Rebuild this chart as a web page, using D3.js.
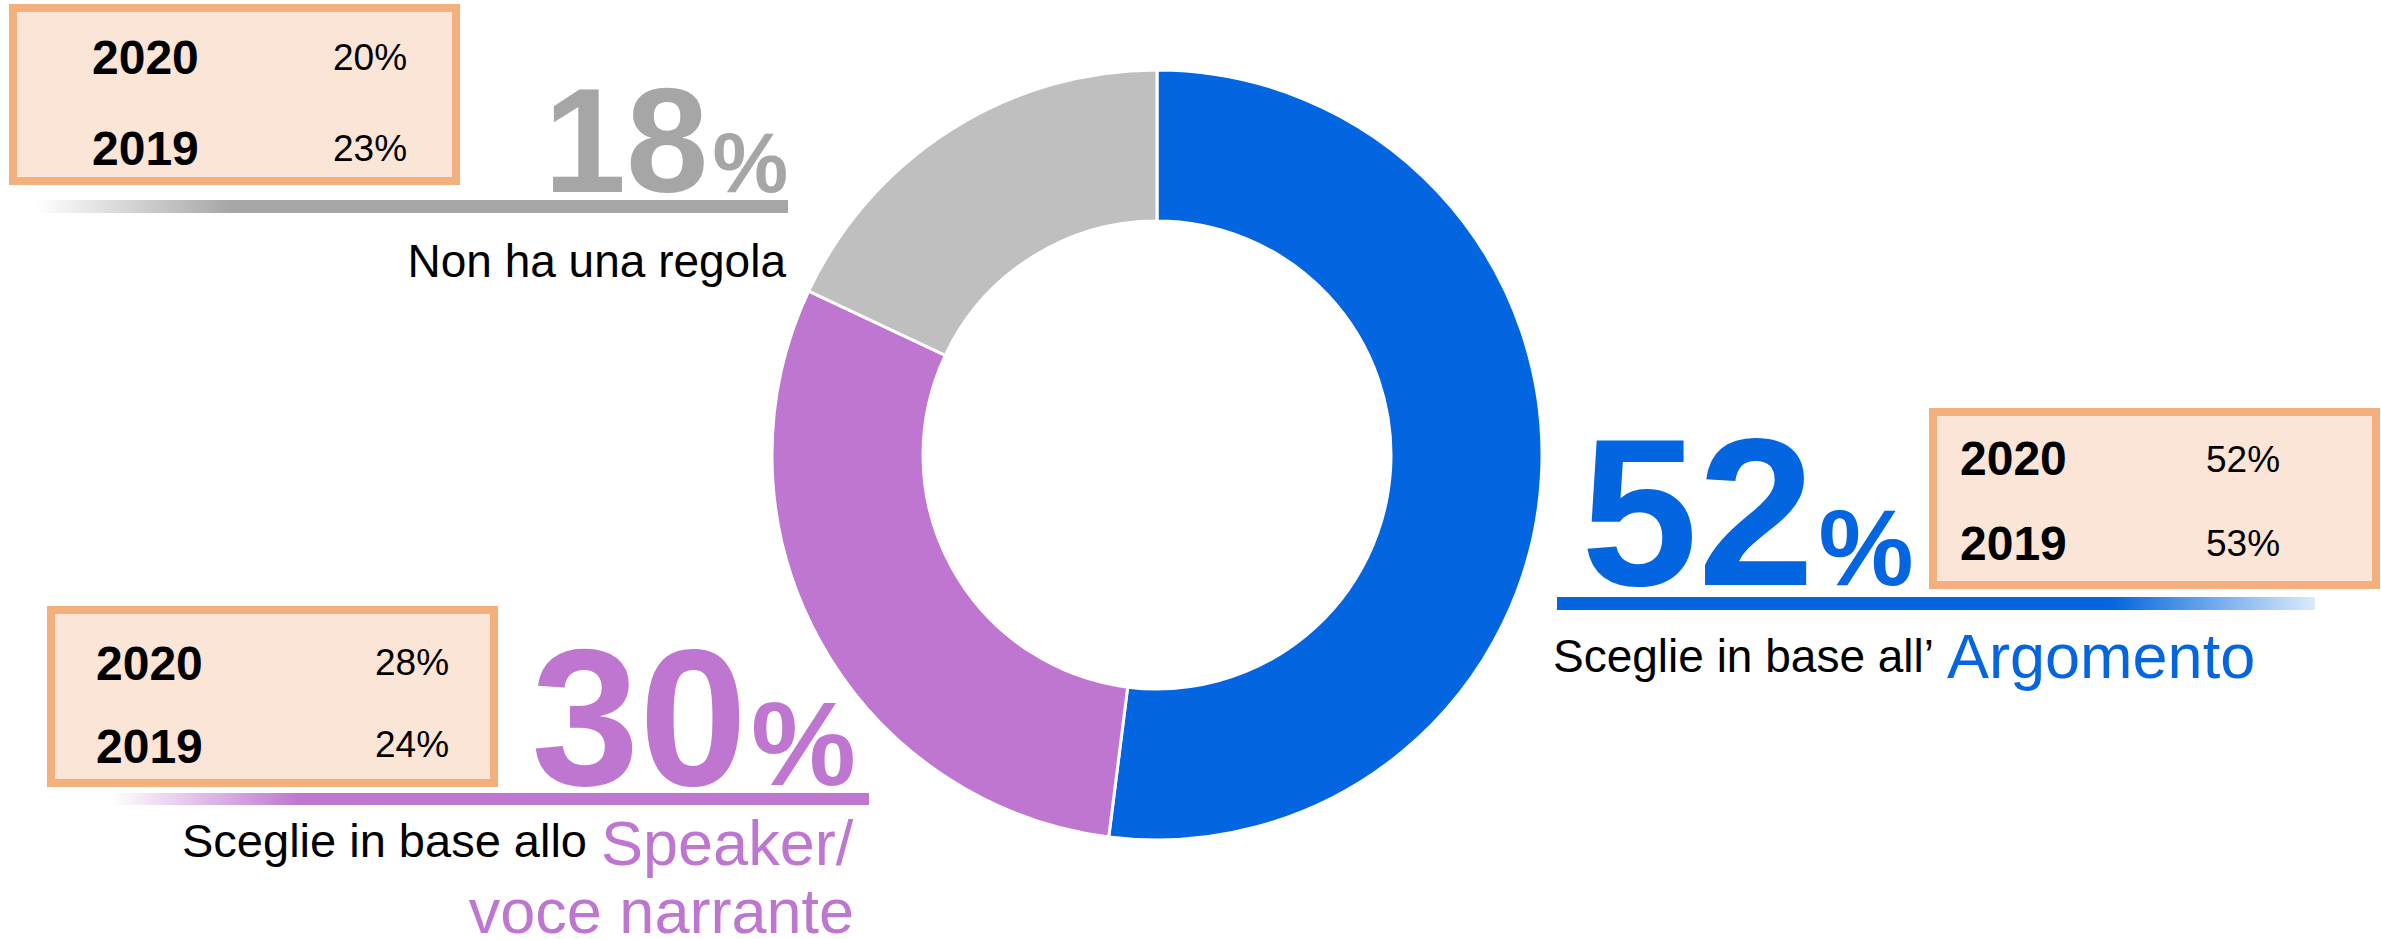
<!DOCTYPE html>
<html>
<head>
<meta charset="utf-8">
<script src="https://cdn.jsdelivr.net/npm/d3@7"></script>
<style>
    body { margin: 0; background: #fff; }
    text { font-family: "Liberation Sans", Arial, sans-serif; }
</style>
</head>
<body>
<svg id="chart" width="2381" height="939"></svg>
<script>
// data
var categories = ["Argomento", "Speaker/voce narrante", "Non ha una regola"];
var values_2021 = [52, 30, 18];
var years = ["2020", "2019"];
var values_2020 = [52, 28, 20];
var values_2019 = [53, 24, 23];

// styles and placement, one entry per category
var colors = ["#0365df", "#be76d1", "#bfbfbf"];
var number_colors = ["#0365df", "#be76d1", "#a6a6a6"];
var layout = [
    {
        num: {x: 1581, y: 585, anchor: "start", big: 210, small: 107},
        bar: {x0: 1557, x1: 2315, y: 597, h: 13, fade: "right", solid: 0.73, fadeTo: "#dcebfb"},
        box: {x: 1929, y: 408, w: 451, h: 181, yearX: 1960, pctX: 2206, yearY: [475, 560], pctY: [472, 556]}
    },
    {
        num: {x: 856, y: 785, anchor: "end", big: 194, small: 118},
        bar: {x0: 110, x1: 869, y: 793, h: 12, fade: "left", solid: 0.25},
        box: {x: 47, y: 606, w: 451, h: 181, yearX: 96, pctX: 375, yearY: [680, 763], pctY: [675, 757]}
    },
    {
        num: {x: 788, y: 192, anchor: "end", big: 148, small: 85},
        bar: {x0: 36, x1: 788, y: 200, h: 13, fade: "left", solid: 0.26},
        box: {x: 9, y: 4, w: 451, h: 181, yearX: 92, pctX: 333, yearY: [74, 165], pctY: [70, 161]}
    }
];

var box_fill = "#fae5d6";
var box_stroke = "#f3af7c";
var border = 8;

var svg = d3.select("#chart");
var defs = svg.append("defs");

// donut
var cx = 1157, cy = 455;
var pie = d3.pie().sort(null).value(function(d) { return d; });
var arc = d3.arc().innerRadius(234).outerRadius(385);

svg.append("g")
    .attr("transform", "translate(" + cx + "," + cy + ")")
    .selectAll("path")
    .data(pie(values_2021))
    .enter().append("path")
    .attr("d", arc)
    .attr("fill", function(d, i) { return colors[i]; })
    .attr("stroke", "#fff")
    .attr("stroke-width", 3);

// underline bars with a faded end
var draw_bar = function(b, i) {
    var id = "fade" + i;
    var g = defs.append("linearGradient")
        .attr("id", id)
        .attr("gradientUnits", "userSpaceOnUse")
        .attr("x1", b.x0).attr("x2", b.x1)
        .attr("y1", 0).attr("y2", 0);
    var c = colors[i] === "#bfbfbf" ? "#a6a6a6" : colors[i];
    if (b.fade === "left") {
        g.append("stop").attr("offset", 0).attr("stop-color", "#fff");
        g.append("stop").attr("offset", b.solid).attr("stop-color", c);
        g.append("stop").attr("offset", 1).attr("stop-color", c);
    } else {
        g.append("stop").attr("offset", 0).attr("stop-color", c);
        g.append("stop").attr("offset", b.solid).attr("stop-color", c);
        g.append("stop").attr("offset", 1).attr("stop-color", b.fadeTo);
    }
    svg.append("rect")
        .attr("x", b.x0)
        .attr("y", b.y)
        .attr("width", b.x1 - b.x0)
        .attr("height", b.h)
        .attr("fill", "url(#" + id + ")");
};

// big percentage
var draw_number = function(n, i) {
    var t = svg.append("text")
        .attr("x", n.x)
        .attr("y", n.y)
        .attr("text-anchor", n.anchor)
        .attr("font-weight", "bold")
        .attr("fill", number_colors[i]);
    t.append("tspan").attr("font-size", n.big).text(values_2021[i]);
    t.append("tspan").attr("font-size", n.small).attr("dx", 4).text("%");
};

// previous years box
var draw_box = function(b, i) {
    svg.append("rect")
        .attr("x", b.x + border / 2)
        .attr("y", b.y + border / 2)
        .attr("width", b.w - border)
        .attr("height", b.h - border)
        .attr("fill", box_fill)
        .attr("stroke", box_stroke)
        .attr("stroke-width", border);

    var past = [values_2020[i], values_2019[i]];
    years.forEach(function(year, j) {
        svg.append("text")
            .attr("x", b.yearX)
            .attr("y", b.yearY[j])
            .attr("font-size", 48)
            .attr("font-weight", "bold")
            .attr("fill", "#000")
            .text(year);
        svg.append("text")
            .attr("x", b.pctX)
            .attr("y", b.pctY[j])
            .attr("font-size", 37)
            .attr("fill", "#000")
            .text(past[j] + "%");
    });
};

layout.forEach(function(l, i) {
    draw_bar(l.bar, i);
    draw_number(l.num, i);
    draw_box(l.box, i);
});

// captions
var caption = function(x, y, size, color, anchor, str) {
    svg.append("text")
        .attr("x", x)
        .attr("y", y)
        .attr("font-size", size)
        .attr("fill", color)
        .attr("text-anchor", anchor)
        .text(str);
};

caption(1553, 672, 46, "#000", "start", "Sceglie in base all\u2019");
caption(1947, 678, 63, colors[0], "start", categories[0]);

caption(587, 857, 47, "#000", "end", "Sceglie in base allo");
caption(601, 865, 63, colors[1], "start", "Speaker/");
caption(854, 933, 63, colors[1], "end", "voce narrante");

caption(786, 277, 46, "#000", "end", categories[2]);
</script>
</body>
</html>
